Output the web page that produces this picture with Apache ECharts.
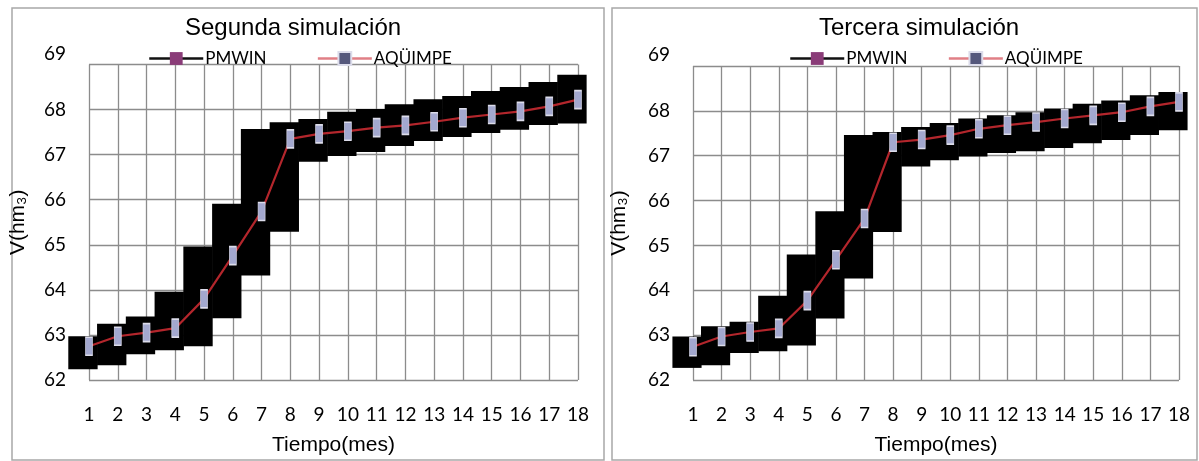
<!DOCTYPE html>
<html><head><meta charset="utf-8">
<script src="https://cdn.jsdelivr.net/npm/echarts@6/dist/echarts.min.js"></script>
<style>html,body{margin:0;padding:0;background:#fff}#c{width:1199px;height:461px}</style>
</head><body><div id="c"></div>
<script>
// x categories (months) and y tick values
const months = [1,2,3,4,5,6,7,8,9,10,11,12,13,14,15,16,17,18];
const yTicks = [62,63,64,65,66,67,68,69];

// Segunda simulación
const aquimpe2 = [62.75,62.97,63.05,63.15,63.8,64.76,65.74,67.35,67.46,67.52,67.6,67.65,67.73,67.82,67.89,67.96,68.07,68.22];
const pmwinLow2  = [62.24,62.33,62.57,62.66,62.75,63.37,64.32,65.29,66.84,66.97,67.06,67.19,67.30,67.39,67.48,67.55,67.66,67.69];
const pmwinHigh2 = [62.97,63.25,63.41,63.96,64.96,65.91,67.57,67.72,67.79,67.95,68.01,68.12,68.23,68.30,68.41,68.50,68.61,68.77];

// Tercera simulación
const aquimpe3 = [62.74,62.97,63.07,63.15,63.77,64.68,65.6,67.3,67.36,67.46,67.6,67.68,67.75,67.83,67.9,67.97,68.1,68.2];
const pmwinLow3  = [62.27,62.33,62.60,62.64,62.77,63.37,64.26,65.30,66.76,66.90,66.98,67.06,67.10,67.17,67.28,67.35,67.46,67.57];
const pmwinHigh3 = [62.97,63.20,63.30,63.88,64.80,65.76,67.46,67.53,67.64,67.73,67.83,67.90,67.97,68.05,68.16,68.23,68.35,68.42];

const chart = echarts.init(document.getElementById('c'), null, {renderer:'canvas'});

function boxRender(params, api) {
  const x = api.value(0), lo = api.value(1), hi = api.value(2);
  const p1 = api.coord([x - 0.72, hi]);
  const p2 = api.coord([x + 0.3, lo]);
  return {type:'rect', shape:{x:p1[0], y:p1[1], width:p2[0]-p1[0], height:p2[1]-p1[1]}, style:{fill:'#000'}};
}
const boxData = (lo, hi) => months.map((m,i) => [m, lo[i], hi[i]]);
const lineData = vals => months.map((m,i) => [m, vals[i]]);

const labelFont = {fontFamily:'Lato', fontSize:19, color:'#000'};
const nameFont = {fontFamily:'Liberation Sans', fontSize:21, color:'#000'};
const gridLine = {show:true, lineStyle:{color:'#8c8c8c', width:1.3}};

function xAxis(gi) {
  return {type:'value', gridIndex:gi, min:months[0], max:months[months.length-1], interval:1,
    axisLine:{show:false}, axisTick:{show:false}, splitLine:gridLine,
    axisLabel:Object.assign({margin:25, formatter: v => String(v)}, labelFont),
    name:'Tiempo(mes)', nameLocation:'middle', nameGap:55, nameTextStyle:nameFont};
}
function yAxis(gi, gap) {
  return {type:'value', gridIndex:gi, min:yTicks[0], max:yTicks[yTicks.length-1], interval:1,
    axisLine:{show:false}, axisTick:{show:false}, splitLine:gridLine,
    axisLabel:Object.assign({margin:23,
      formatter: v => v === yTicks[yTicks.length-1] ? '{t|' + v + '}' : String(v),
      rich:{t:{fontFamily:'Lato', fontSize:19, color:'#000', padding:[0,0,22,0]}}}, labelFont),
    name:'V(hm₃)', nameLocation:'middle', nameGap:gap, nameTextStyle:nameFont};
}

function legend(left, gap) {
  return {left:left, top:45, itemWidth:54, itemHeight:16, itemGap:gap,
    textStyle:{fontFamily:'Lato', fontSize:17, color:'#000', padding:[0,0,0,-3]},
    data:[{name:'PMWIN', lineStyle:{color:'#111', width:2.5}, itemStyle:{color:'#8a3c78'}},
          {name:'AQÜIMPE', lineStyle:{color:'#e07f86', width:2.5}, itemStyle:{color:'#55587c'}}]};
}
function lineSeries(idx, vals) {
  return {type:'line', name:'AQÜIMPE', xAxisIndex:idx, yAxisIndex:idx, data:lineData(vals), z:5,
    symbol:'rect', symbolSize:[7,18], showSymbol:true,
    lineStyle:{color:'#b3262c', width:2.2},
    itemStyle:{color:'#a3a8cf', borderColor:'#dcdcea', borderWidth:1}};
}
function boxSeries(idx, lo, hi) {
  return {type:'custom', name:'PMWIN', xAxisIndex:idx, yAxisIndex:idx, data:boxData(lo, hi),
    encode:{x:0, y:[1,2]}, renderItem:boxRender, z:2, itemStyle:{color:'#000'}};
}

chart.setOption({
  animation:false,
  backgroundColor:'#fff',
  title:[
    {text:'Segunda simulación', left:180, top:11, textStyle:{fontFamily:'Liberation Sans', fontSize:24, fontWeight:'normal', color:'#000'}},
    {text:'Tercera simulación', left:814, top:11, textStyle:{fontFamily:'Liberation Sans', fontSize:24, fontWeight:'normal', color:'#000'}}
  ],
  legend:[legend(143, 50), legend(784, 40)],
  graphic:[
    {type:'rect', shape:{x:12, y:8, width:592, height:452}, style:{fill:null, stroke:'#a8a8a8', lineWidth:1.5}, silent:true},
    {type:'rect', shape:{x:612, y:8, width:585, height:452}, style:{fill:null, stroke:'#a8a8a8', lineWidth:1.5}, silent:true}
  ],
  grid:[
    {left:89, right:621, top:64.5, bottom:79.3},
    {left:693, right:20, top:66, bottom:79.3}
  ],
  xAxis:[xAxis(0), xAxis(1)],
  yAxis:[yAxis(0, 60), yAxis(1, 63)],
  series:[
    // legend-only entry giving PMWIN its line-and-marker key
    {type:'line', name:'PMWIN', xAxisIndex:0, yAxisIndex:0, data:[], symbol:'rect',
     lineStyle:{color:'#111', width:2.5}, itemStyle:{color:'#8a3c78'}},
    boxSeries(0, pmwinLow2, pmwinHigh2),
    lineSeries(0, aquimpe2),
    boxSeries(1, pmwinLow3, pmwinHigh3),
    lineSeries(1, aquimpe3)
  ]
});
</script></body></html>
